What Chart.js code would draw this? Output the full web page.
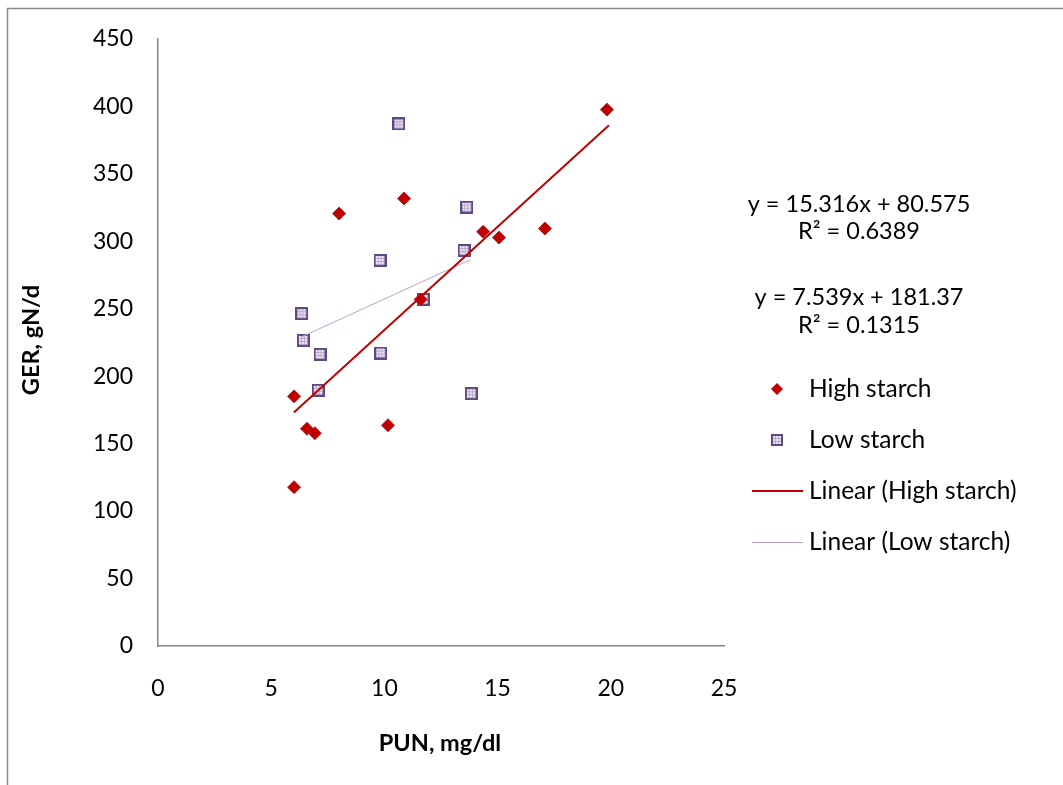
<!DOCTYPE html>
<html>
<head>
<meta charset="utf-8">
<script src="https://cdn.jsdelivr.net/npm/chart.js@4.4.1/dist/chart.umd.min.js"></script>
<style>
  html, body { margin: 0; padding: 0; background: #ffffff; }
  #wrap { width: 1063px; height: 785px; position: relative; }
</style>
</head>
<body>
<div id="wrap"><canvas id="c" width="1063" height="785"></canvas></div>
<script>
// ---- Data ----
const highStarchX = [6.01, 6.01, 6.58, 6.93, 8.0, 10.16, 10.87, 11.6, 14.36, 15.06, 17.09, 19.83];
const highStarchY = [185, 117.7, 161, 157.7, 320.5, 163.6, 331.6, 256.8, 307, 302.7, 309.4, 397.5];

const lowStarchX = [10.64, 13.64, 13.52, 9.81, 6.35, 11.72, 6.42, 7.16, 9.84, 7.08, 13.84];
const lowStarchY = [386.9, 325.2, 293.1, 285.7, 246.3, 256.8, 226.5, 216.1, 217.1, 189.5, 187.0];

// trend line endpoints (as drawn in the picture)
const trendHighX = [6.0, 19.92];
const trendHighY = [173.0, 386.0];
const trendLowX = [6.32, 13.82];
const trendLowY = [228.9, 286.5];

const xTicks = [0, 5, 10, 15, 20, 25];
const yTicks = [0, 50, 100, 150, 200, 250, 300, 350, 400, 450];

const seriesNames = ['High starch', 'Low starch', 'Linear (High starch)', 'Linear (Low starch)'];
const equations = ['y = 15.316x + 80.575', 'R\u00B2 = 0.6389', 'y = 7.539x + 181.37', 'R\u00B2 = 0.1315'];
const xTitle = 'PUN, mg/dl';
const yTitle = 'GER, gN/d';

// ---- helpers ----
function pts(xs, ys) { return xs.map((x, i) => ({ x: x, y: ys[i] })); }

const FONT = 'Lato, "Open Sans", sans-serif';
const RED = '#C00000';

function makeSquare(size) {
  const c = document.createElement('canvas');
  c.width = size; c.height = size;
  const g = c.getContext('2d');
  g.fillStyle = '#ECE8F2';
  g.fillRect(0, 0, size, size);
  g.strokeStyle = '#B9A9CF';
  g.lineWidth = 1;
  for (let i = 4; i < size - 2; i += 3) {
    g.beginPath(); g.moveTo(i + 0.5, 2); g.lineTo(i + 0.5, size - 2); g.stroke();
    g.beginPath(); g.moveTo(2, i + 0.5); g.lineTo(size - 2, i + 0.5); g.stroke();
  }
  g.strokeStyle = '#5F4A80';
  g.lineWidth = 2;
  g.strokeRect(1, 1, size - 2, size - 2);
  return c;
}
const squareImg = makeSquare(13);
const squareLegendImg = makeSquare(12);

const decor = {
  id: 'decor',
  beforeDraw(chart) {
    const ctx = chart.ctx;
    ctx.save();
    ctx.fillStyle = '#ffffff';
    ctx.fillRect(0, 0, chart.width, chart.height);
    ctx.restore();
  },
  afterDraw(chart) {
    const ctx = chart.ctx;
    ctx.save();
    // outer frame (left and top edges visible)
    ctx.strokeStyle = '#8a8a8a';
    ctx.lineWidth = 1.5;
    ctx.beginPath();
    ctx.moveTo(7.5, 800);
    ctx.lineTo(7.5, 8.5);
    ctx.lineTo(1070, 8.5);
    ctx.stroke();

    // axis titles
    ctx.fillStyle = '#000000';
    ctx.font = 'bold 23.5px ' + FONT;
    ctx.textAlign = 'center';
    ctx.textBaseline = 'middle';
    ctx.fillText(xTitle, 440, 743);
    ctx.save();
    ctx.translate(31, 340);
    ctx.rotate(-Math.PI / 2);
    ctx.fillText(yTitle, 0, 0);
    ctx.restore();

    // equations
    ctx.font = '23.5px ' + FONT;
    ctx.textAlign = 'center';
    const eqY = [204, 231, 297, 325];
    equations.forEach((t, i) => ctx.fillText(t, 859, eqY[i]));

    // legend
    ctx.font = '24.5px ' + FONT;
    ctx.textAlign = 'left';
    const legY = [389, 440, 491, 542];
    const textX = 809;
    // diamond
    ctx.fillStyle = RED;
    ctx.beginPath();
    ctx.moveTo(777, legY[0] - 6);
    ctx.lineTo(783, legY[0]);
    ctx.lineTo(777, legY[0] + 6);
    ctx.lineTo(771, legY[0]);
    ctx.closePath();
    ctx.fill();
    // square
    ctx.drawImage(squareLegendImg, 771, legY[1] - 6);
    // lines
    ctx.strokeStyle = RED; ctx.lineWidth = 2;
    ctx.beginPath(); ctx.moveTo(752, legY[2]); ctx.lineTo(803, legY[2]); ctx.stroke();
    ctx.strokeStyle = '#B7A0D8'; ctx.lineWidth = 1;
    ctx.beginPath(); ctx.moveTo(752, legY[3] + 0.5); ctx.lineTo(803, legY[3] + 0.5); ctx.stroke();
    ctx.fillStyle = '#000000';
    seriesNames.forEach((t, i) => ctx.fillText(t, textX, legY[i]));
    ctx.restore();
  }
};

new Chart(document.getElementById('c'), {
  type: 'scatter',
  data: {
    datasets: [
      {
        label: seriesNames[2], data: pts(trendHighX, trendHighY), showLine: true,
        borderColor: RED, borderWidth: 2, pointRadius: 0, fill: false, order: 0
      },
      {
        label: seriesNames[3], data: pts(trendLowX, trendLowY), showLine: true,
        borderColor: '#B7A0D8', borderWidth: 1, pointRadius: 0, fill: false, order: 1
      },
      {
        label: seriesNames[0], data: pts(highStarchX, highStarchY),
        pointStyle: 'rectRot', pointRadius: 6.5, backgroundColor: RED,
        borderColor: '#B22222', borderWidth: 1, order: 2
      },
      {
        label: seriesNames[1], data: pts(lowStarchX, lowStarchY),
        pointStyle: squareImg, pointRadius: 6.5, order: 3
      }
    ]
  },
  options: {
    responsive: false,
    animation: false,
    devicePixelRatio: 1,
    layout: { padding: { left: 0, top: 38, right: 339, bottom: 0 } },
    plugins: { legend: { display: false }, tooltip: { enabled: false } },
    scales: {
      x: {
        type: 'linear', min: 0, max: 25,
        afterBuildTicks: (s) => { s.ticks = xTicks.map(v => ({ value: v })); },
        afterFit: (s) => { s.height = 139; },
        grid: { display: false, drawTicks: false },
        border: { display: true, color: '#878787', width: 1.5 },
        ticks: { color: '#000', font: { family: FONT, size: 23 }, padding: 29, maxRotation: 0 }
      },
      y: {
        type: 'linear', min: 0, max: 450,
        afterBuildTicks: (s) => { s.ticks = yTicks.map(v => ({ value: v })); },
        afterFit: (s) => { s.width = 158; },
        grid: { display: false, drawTicks: false },
        border: { display: true, color: '#878787', width: 1.5 },
        ticks: { color: '#000', font: { family: FONT, size: 23 }, padding: 25 }
      }
    }
  },
  plugins: [decor]
});
</script>
</body>
</html>
